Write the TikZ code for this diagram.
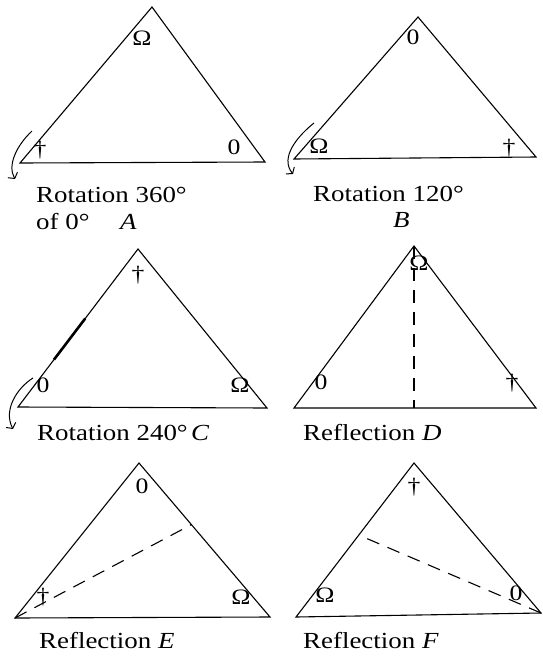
\documentclass[tikz,border=0pt]{standalone}
\usepackage{fontspec}
\setmainfont[FakeStretch=1.17]{Liberation Serif}
\usetikzlibrary{calc,arrows.meta}

\tikzset{
  tri/.style={line width=1.1pt, line join=miter},
  refl/.style={line width=1.1pt, dash pattern=on 13pt off 9pt},
  turn/.style={line width=1pt, -{Straight Barb[length=4pt,width=11pt]}},
  lab/.style={inner sep=0pt, font=\fontsize{22}{26}\selectfont},
  capt/.style={inner sep=0pt, anchor=base west, font=\fontsize{23}{27}\selectfont}
}

\begin{document}
\begin{tikzpicture}[x=1pt,y=-1pt]
\useasboundingbox (0,0) rectangle (542,659);
% A
\coordinate (aT) at (152,7);
\coordinate (aL) at (20,163);
\coordinate (aR) at (265,162);
\draw[tri] (aL) -- (aT) -- (aR) -- cycle;
\node[lab] (aT1) at (142,38) {Ω};
\node[lab] (aL1) at (40,150) {†};
\node[lab] (aR1) at (234,147) {0};
\draw[turn] (32,131) .. controls (17,145) and (7,165) .. (15,179);
\node[capt] (aCap) at (36,202) {Rotation 360°};
\node[capt] (aCap2) at (36,229) {of 0°};
\node[capt] (aName) at (120,229) {\textit{A}};
% B
\coordinate (bT) at (418,17);
\coordinate (bL) at (294,159);
\coordinate (bR) at (536,157);
\draw[tri] (bL) -- (bT) -- (bR) -- cycle;
\node[lab] (bT1) at (413,37) {0};
\node[lab] (bL1) at (319,146) {Ω};
\node[lab] (bR1) at (509,148) {†};
\draw[turn] (314,123) .. controls (299,135) and (279,157) .. (293,174);
\node[capt] (bCap) at (313,201) {Rotation 120°};
\node[capt] (bName) at (393,227) {\textit{B}};
% C
\coordinate (cT) at (138,249);
\coordinate (cL) at (18,407);
\coordinate (cR) at (267,408);
\draw[tri] (cL) -- (cT) -- (cR) -- cycle;
\draw[line width=2.6pt] ($(cL)!0.3!(cT)$) -- ($(cL)!0.56!(cT)$);
\node[lab] (cT1) at (138,275) {†};
\node[lab] (cL1) at (43,385) {0};
\node[lab] (cR1) at (240,385) {Ω};
\draw[turn] (33,378) .. controls (17,388) and (3,410) .. (13,429);
\node[capt] (cCap) at (37,440) {Rotation 240°};
\node[capt] (cName) at (191,440) {\textit{C}};
% D
\coordinate (dT) at (414,246);
\coordinate (dL) at (294,408);
\coordinate (dR) at (536,408);
\coordinate (dM) at (414,408);
\draw[tri] (dL) -- (dT) -- (dR) -- cycle;
\draw[refl] (dT) -- (dM);
\node[lab] (dT1) at (419,263) {Ω};
\node[lab] (dL1) at (321,382) {0};
\node[lab] (dR1) at (512,383) {†};
\node[capt] (dCap) at (303,440) {Reflection \textit{D}};
% E
\coordinate (eT) at (139,463);
\coordinate (eL) at (15,618);
\coordinate (eR) at (270,617);
\coordinate (eM) at ($(eT)!0.4!(eR)$);
\draw[tri] (eL) -- (eT) -- (eR) -- cycle;
\draw[refl] (eL) -- (eM);
\node[lab] (eT1) at (142,486) {0};
\node[lab] (eL1) at (43,597) {†};
\node[lab] (eR1) at (241,597) {Ω};
\node[capt] (eCap) at (39,648) {Reflection \textit{E}};
% F
\coordinate (fT) at (414,463);
\coordinate (fL) at (296,617);
\coordinate (fR) at (541,613);
\coordinate (fM) at ($(fT)!0.468!(fL)$);
\draw[tri] (fL) -- (fT) -- (fR) -- cycle;
\draw[refl] (fR) -- (fM);
\node[lab] (fT1) at (414,487) {†};
\node[lab] (fL1) at (325,595) {Ω};
\node[lab] (fR1) at (516,593) {0};
\node[capt] (fCap) at (303,648) {Reflection \textit{F}};
\end{tikzpicture}
\end{document}
